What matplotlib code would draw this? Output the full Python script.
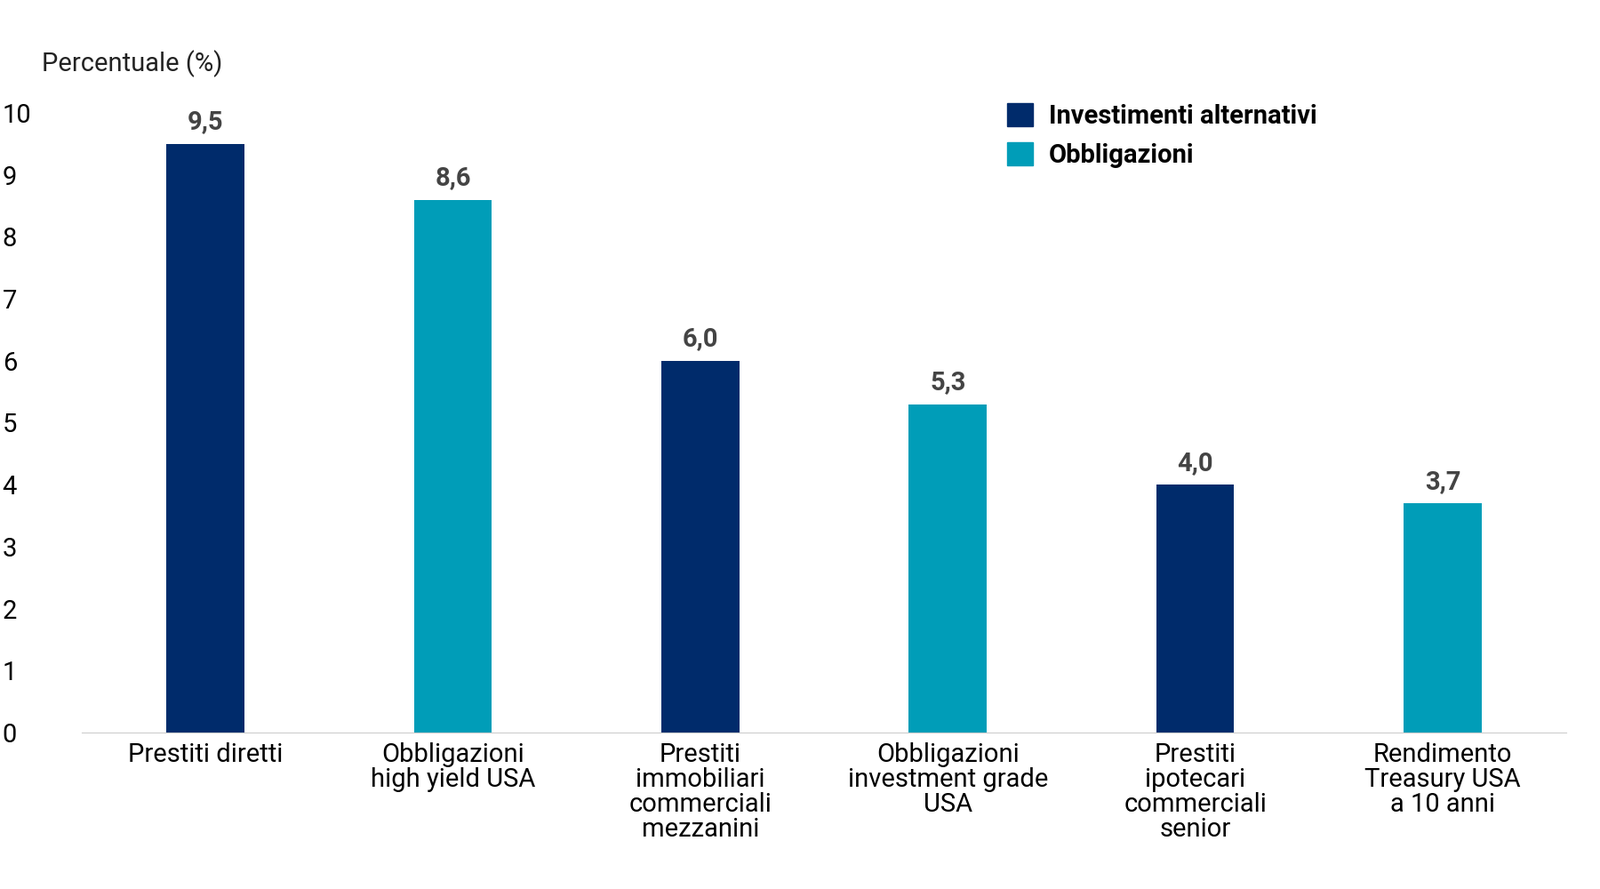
import matplotlib.pyplot as plt
from matplotlib.patches import Patch

categories = ["Prestiti diretti", "Obbligazioni\nhigh yield USA",
              "Prestiti\nimmobiliari\ncommerciali\nmezzanini",
              "Obbligazioni\ninvestment grade\nUSA",
              "Prestiti\nipotecari\ncommerciali\nsenior",
              "Rendimento\nTreasury USA\na 10 anni"]
values = [9.5, 8.6, 6.0, 5.3, 4.0, 3.7]
groups = ["alt", "bond", "alt", "bond", "alt", "bond"]
value_labels = ["9,5", "8,6", "6,0", "5,3", "4,0", "3,7"]

navy = "#002B6B"
teal = "#009DB8"
colors = [navy if g == "alt" else teal for g in groups]

plt.rcParams["font.family"] = "Roboto"
fig = plt.figure(figsize=(18, 10), dpi=100)
ax = fig.add_axes([0.051, 0.176, 0.928, 0.697])

x = range(len(categories))
ax.bar(x, values, width=0.315, color=colors)
for i, (v, lab) in enumerate(zip(values, value_labels)):
    ax.text(i, v + 0.15, lab, ha="center", va="bottom", fontsize=21,
            fontweight="bold", color="#444444")

ax.set_ylim(0, 10)
ax.set_xlim(-0.5, 5.5)
ax.set_yticks(range(0, 11))
ax.tick_params(axis="y", length=0, labelsize=21, pad=10)
ax.tick_params(axis="x", length=0, labelsize=21, pad=8)
ax.set_xticks(list(x))
ax.set_xticklabels(categories, va="top", linespacing=1.0)
for lab in ax.get_yticklabels():
    lab.set_horizontalalignment("left")
    lab.set_x(-0.045)
for s in ["top", "right", "left"]:
    ax.spines[s].set_visible(False)
ax.spines["bottom"].set_color("#cccccc")

fig.text(0.026, 0.92, "Percentuale (%)", fontsize=21, color="#222222")

handles = [Patch(color=navy, label="Investimenti alternativi"),
           Patch(color=teal, label="Obbligazioni")]
fig.legend(handles=handles, loc="upper left", bbox_to_anchor=(0.615, 0.91),
           frameon=False, fontsize=21, handlelength=1.0, handleheight=1.0,
           handletextpad=0.6, labelspacing=0.5,
           prop={"weight": "bold", "size": 21})

fig.savefig("out.png")
